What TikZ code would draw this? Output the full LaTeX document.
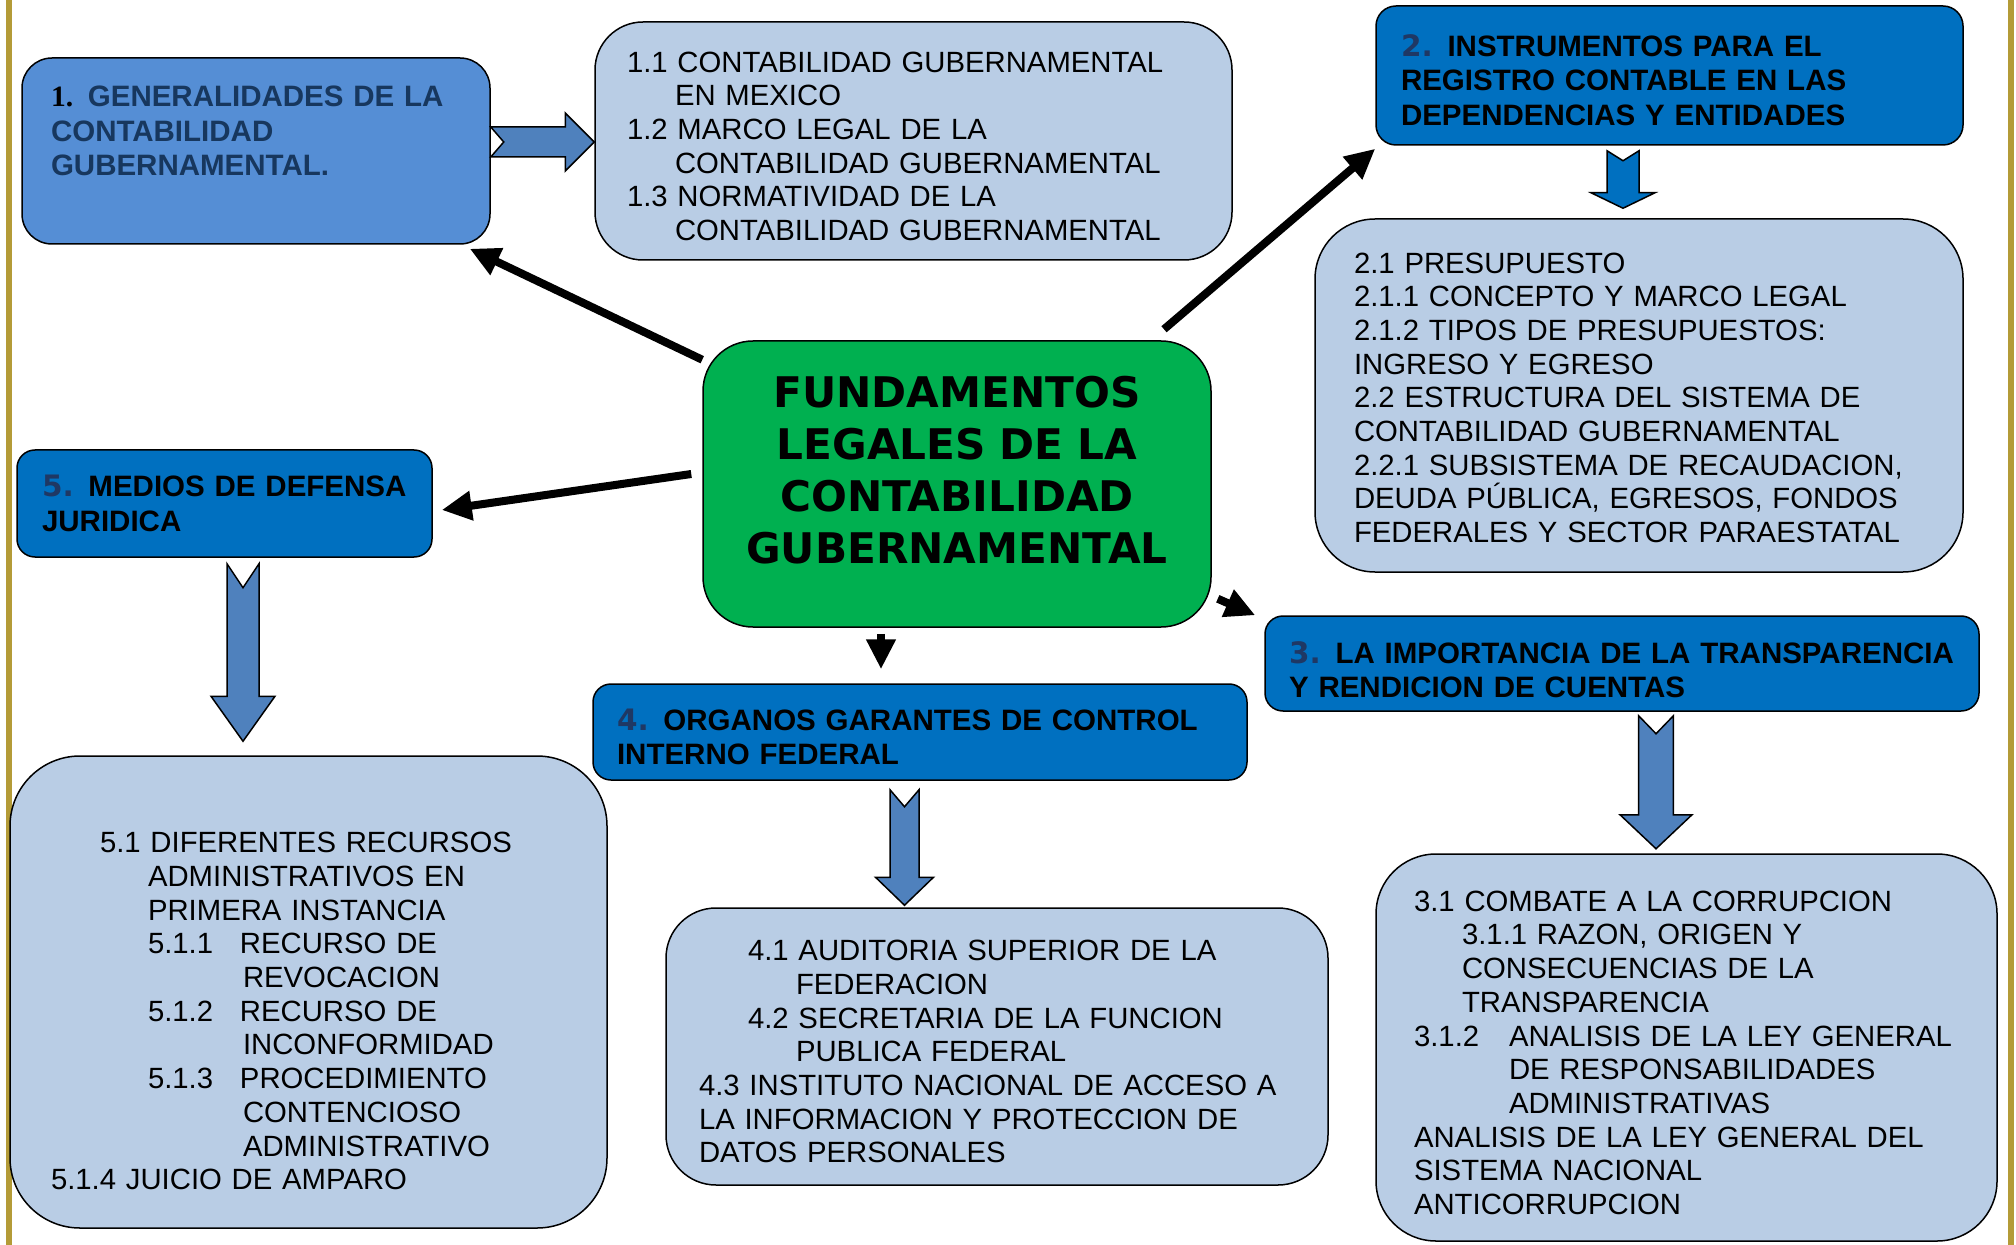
\documentclass[tikz,border=0pt]{standalone}
\usepackage{fontspec}
\setmainfont{Liberation Sans}
\newfontfamily\verdanafont{DejaVu Sans}
\newfontfamily\timesfont{Liberation Serif}
\usetikzlibrary{arrows.meta, positioning, calc}

\definecolor{hdrblue}{HTML}{0070C0}
\definecolor{genblue}{HTML}{558ED5}
\definecolor{subblue}{HTML}{B9CDE5}
\definecolor{ctrgreen}{HTML}{00B050}
\definecolor{steelblue}{HTML}{4F81BD}
\definecolor{numnavy}{HTML}{1F3864}
\definecolor{gennavy}{HTML}{17375E}
\definecolor{bordergold}{HTML}{B49B37}

\newcommand{\subsize}{\fontsize{14.65pt}{16.85pt}\selectfont}
\newcommand{\hdrsize}{\fontsize{14.75pt}{17.2pt}\selectfont\bfseries}
\newcommand{\ctrfont}{\verdanafont\bfseries\fontsize{21.1pt}{26.15pt}\selectfont}
\newcommand{\hnum}[1]{{\verdanafont\bfseries\color{numnavy}#1}}
\newcommand{\toppad}[1]{\rule{0pt}{#1}}

% wide arrow with notched tail: fill, tail, tip, shaft half, head half, head length, notch
\newcommand{\notcharrow}[7]{%
  \coordinate (nb) at ($(#3)!#6!(#2)$);
  \draw[blockarr, fill=#1]
    ($(#2)!#4!90:(#3)$) -- ($(nb)!#4!90:(#3)$) -- ($(nb)!#5!90:(#3)$) -- (#3)
    -- ($(nb)!#5!-90:(#3)$) -- ($(nb)!#4!-90:(#3)$) -- ($(#2)!#4!-90:(#3)$)
    -- ($(#2)!#7!(#3)$) -- cycle;
}

\begin{document}
\begin{tikzpicture}[
      x=0.5pt, y=-0.5pt,
      hdr/.style={rectangle, draw, line width=0.75pt, rounded corners=9pt, fill=hdrblue, align=left, font=\hdrsize, inner ysep=0pt},
      sub/.style={rectangle, draw, line width=0.75pt, rounded corners=28pt, fill=subblue, align=left, font=\subsize, inner ysep=0pt},
      arr/.style={-{Triangle[length=15pt,width=14pt]}, line width=4pt},
      blockarr/.style={draw, line width=0.75pt, line join=miter}
    ]
    \path[use as bounding box] (0,0) rectangle (2016,1245);
    \fill[bordergold] (6,0) rectangle (12,1245);
    \fill[bordergold] (2008,0) rectangle (2014,1245);

    \node[rectangle, draw, line width=0.75pt, rounded corners=25pt, fill=ctrgreen, minimum width=254pt, minimum height=143pt,
          text width=230pt, inner xsep=12pt, align=center, font=\ctrfont] (ctr) at (957,484)
      {FUNDAMENTOS\\LEGALES DE LA\\CONTABILIDAD\\GUBERNAMENTAL\\[-12pt]~};

    \node[hdr, fill=genblue, rounded corners=15pt, minimum width=234pt, minimum height=93pt, text width=205pt, inner xsep=14.5pt, text=gennavy] (gen) at (256,151)
      {{\timesfont\color{black}1.} GENERALIDADES DE LA\\CONTABILIDAD\\GUBERNAMENTAL.\\[3pt]~};
    \node[sub, rounded corners=24pt, minimum width=318.5pt, minimum height=119pt, text width=286.5pt, inner xsep=16pt] (gensub) at (913.5,141)
      {\toppad{15.5pt}1.1 CONTABILIDAD GUBERNAMENTAL\\\hspace*{24pt}EN MEXICO\\
       1.2 MARCO LEGAL DE LA\\\hspace*{24pt}CONTABILIDAD GUBERNAMENTAL\\
       1.3 NORMATIVIDAD DE LA\\\hspace*{24pt}CONTABILIDAD GUBERNAMENTAL};

    \node[hdr, rounded corners=10pt, minimum width=293.5pt, minimum height=69.5pt, text width=268.5pt, inner xsep=12.5pt] (instr) at (1669.5,75.5)
      {\toppad{15.5pt}\hnum{2.} INSTRUMENTOS PARA EL\\REGISTRO CONTABLE EN LAS\\DEPENDENCIAS Y ENTIDADES};
    \node[sub, rounded corners=30pt, minimum width=324pt, minimum height=176.5pt, text width=285pt, inner xsep=19.5pt] (instrsub) at (1639,395.5)
      {\toppad{12.5pt}2.1 PRESUPUESTO\\2.1.1 CONCEPTO Y MARCO LEGAL\\2.1.2 TIPOS DE PRESUPUESTOS:\\INGRESO Y EGRESO\\
       2.2 ESTRUCTURA DEL SISTEMA DE\\CONTABILIDAD GUBERNAMENTAL\\2.2.1 SUBSISTEMA DE RECAUDACION,\\
       DEUDA PÚBLICA, EGRESOS, FONDOS\\FEDERALES Y SECTOR PARAESTATAL};

    \node[hdr, minimum width=357pt, minimum height=47.5pt, text width=333pt, inner xsep=12pt] (transp) at (1622,663.5)
      {\toppad{17pt}\hnum{3.} LA IMPORTANCIA DE LA TRANSPARENCIA\\Y RENDICION DE CUENTAS};
    \node[sub, rounded corners=30pt, minimum width=310.5pt, minimum height=193.5pt, text width=272.5pt, inner xsep=19pt] (transpsub) at (1686.5,1047.5)
      {\toppad{15.5pt}3.1 COMBATE A LA CORRUPCION\\
       \hspace*{24pt}3.1.1 RAZON, ORIGEN Y\\\hspace*{24pt}CONSECUENCIAS DE LA\\\hspace*{24pt}TRANSPARENCIA\\
       \makebox[47.5pt][l]{3.1.2}ANALISIS DE LA LEY GENERAL\\\hspace*{47.5pt}DE RESPONSABILIDADES\\\hspace*{47.5pt}ADMINISTRATIVAS\\
       ANALISIS DE LA LEY GENERAL DEL\\SISTEMA NACIONAL\\ANTICORRUPCION};

    \node[hdr, minimum width=327pt, minimum height=48pt, text width=303pt, inner xsep=12pt] (organos) at (920,732)
      {\toppad{15.5pt}\hnum{4.} ORGANOS GARANTES DE CONTROL\\INTERNO FEDERAL};
    \node[sub, rounded corners=25pt, minimum width=331pt, minimum height=138.5pt, text width=298pt, inner xsep=16.5pt] (organossub) at (997,1046.5)
      {\toppad{15.5pt}\hspace*{24.5pt}4.1 AUDITORIA SUPERIOR DE LA\\\hspace*{48.5pt}FEDERACION\\
       \hspace*{24.5pt}4.2 SECRETARIA DE LA FUNCION\\\hspace*{48.5pt}PUBLICA FEDERAL\\
       4.3 INSTITUTO NACIONAL DE ACCESO A\\LA INFORMACION Y PROTECCION DE\\DATOS PERSONALES};

    \node[hdr, minimum width=207.5pt, minimum height=53.5pt, text width=182.5pt, inner xsep=12.5pt] (medios) at (224.5,503.5)
      {\hnum{5.} MEDIOS DE DEFENSA\\JURIDICA};
    \node[sub, rounded corners=35pt, minimum width=298.5pt, minimum height=236pt, text width=257.5pt, inner xsep=20.5pt] (mediossub) at (308.5,992)
      {\phantom{X}\\[2.5pt]
       \hspace*{24.5pt}5.1 DIFERENTES RECURSOS\\\hspace*{48.5pt}ADMINISTRATIVOS EN\\\hspace*{48.5pt}PRIMERA INSTANCIA\\
       \hspace*{48.5pt}\makebox[46pt][l]{5.1.1}RECURSO DE\\\hspace*{96pt}REVOCACION\\
       \hspace*{48.5pt}\makebox[46pt][l]{5.1.2}RECURSO DE\\\hspace*{96pt}INCONFORMIDAD\\
       \hspace*{48.5pt}\makebox[46pt][l]{5.1.3}PROCEDIMIENTO\\\hspace*{96pt}CONTENCIOSO\\\hspace*{96pt}ADMINISTRATIVO\\
       5.1.4 JUICIO DE AMPARO};

    % black arrows out of the centre
    \draw[arr] (ctr.154.5) -- ($(gen.south east)+(-21,4)$);
    \draw[arr] ($(ctr.north)+(207,-11)$) -- ($(instr.south west)+(0,3)$);
    \draw[arr] ($(ctr.west)+(-11,-10)$) -- ($(medios.east)+(9,6.5)$);
    \draw[arr] ($(ctr.south)+(-76,6)$) -- ($(organos.north)+(-39,-14)$);
    \draw[arr] ($(ctr.south east)+(6,-29)$) -- ($(transp.north west)+(-9,0)$);

    % wide arrows to the sub-topics
    \coordinate (a1t) at ($(gen.east)+(0,-9)$);
    \coordinate (a1h) at ($(gensub.west)+(0,1)$);
    \notcharrow{steelblue}{a1t}{a1h}{7.5pt}{14.5pt}{14.5pt}{6.5pt}
    \coordinate (a2t) at ($(instr.south)+(-46.5,5)$);
    \coordinate (a2h) at ($(instrsub.north)+(-16,-10)$);
    \notcharrow{hdrblue}{a2t}{a2h}{8pt}{16pt}{7.75pt}{5pt}
    \coordinate (a3t) at ($(transp.south)+(34,4)$);
    \coordinate (a3h) at ($(transpsub.north)+(-30.5,-4.5)$);
    \notcharrow{steelblue}{a3t}{a3h}{8.7pt}{18pt}{17pt}{9pt}
    \coordinate (a4t) at ($(organos.south)+(-15.5,9)$);
    \coordinate (a4h) at ($(organossub.north)+(-92.5,-2)$);
    \notcharrow{steelblue}{a4t}{a4h}{7.25pt}{14.5pt}{14pt}{8.5pt}
    \coordinate (a5t) at ($(medios.south)+(18.5,6)$);
    \coordinate (a5h) at ($(mediossub.north)+(-65.5,-14)$);
    \notcharrow{steelblue}{a5t}{a5h}{8pt}{16pt}{22.5pt}{12pt}
  \end{tikzpicture}
\end{document}
